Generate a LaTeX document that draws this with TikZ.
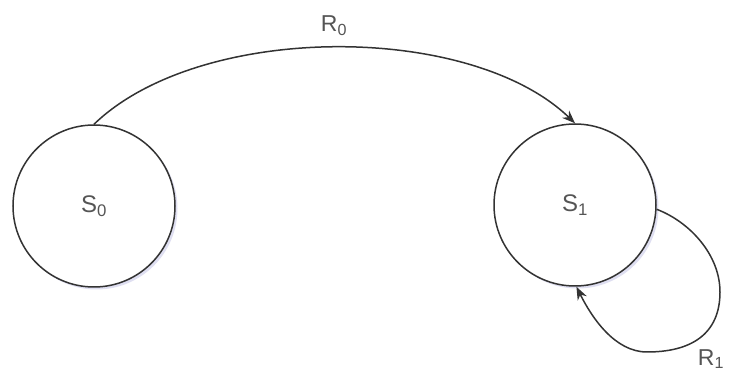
\documentclass[tikz,border=0pt]{standalone}
\usepackage{fontspec}
\setmainfont{Liberation Sans}
\usetikzlibrary{arrows.meta,shadows}
\definecolor{linec}{HTML}{333333}
\definecolor{textc}{HTML}{555555}
\tikzset{
  state/.style={circle, draw=linec, line width=1.5pt, fill=white, minimum size=162pt, inner sep=0pt,
    text=textc, font=\fontsize{24}{24}\selectfont,
    drop shadow={opacity=0.18, shadow xshift=2.5pt, shadow yshift=-2.5pt, fill=blue!40!gray}},
  trans/.style={draw=linec, line width=1.5pt, -{Stealth[length=13pt,width=10pt]}},
  lbl/.style={text=textc, font=\fontsize{23}{23}\selectfont, inner sep=0pt}
}
\begin{document}
\begin{tikzpicture}[x=1pt,y=-1pt]
\useasboundingbox (0,0) rectangle (729,379);
\node[state] (s0) at (94,206) {S\textsubscript{0}};
\node[state] (s1) at (575,205) {S\textsubscript{1}};
\draw[trans] (s0.north) .. controls (200,22) and (470,22) .. (s1.north);
\node[lbl] (r0) at (334,26) {R\textsubscript{0}};
\draw[trans] (s1.-3) .. controls (690,222) and (720,255) .. (720,292)
  .. controls (720,335) and (690,352) .. (647,352)
  .. controls (615,352) and (592,318) .. (s1.-89);
\node[lbl] (r1) at (711,359) {R\textsubscript{1}};
\end{tikzpicture}
\end{document}
